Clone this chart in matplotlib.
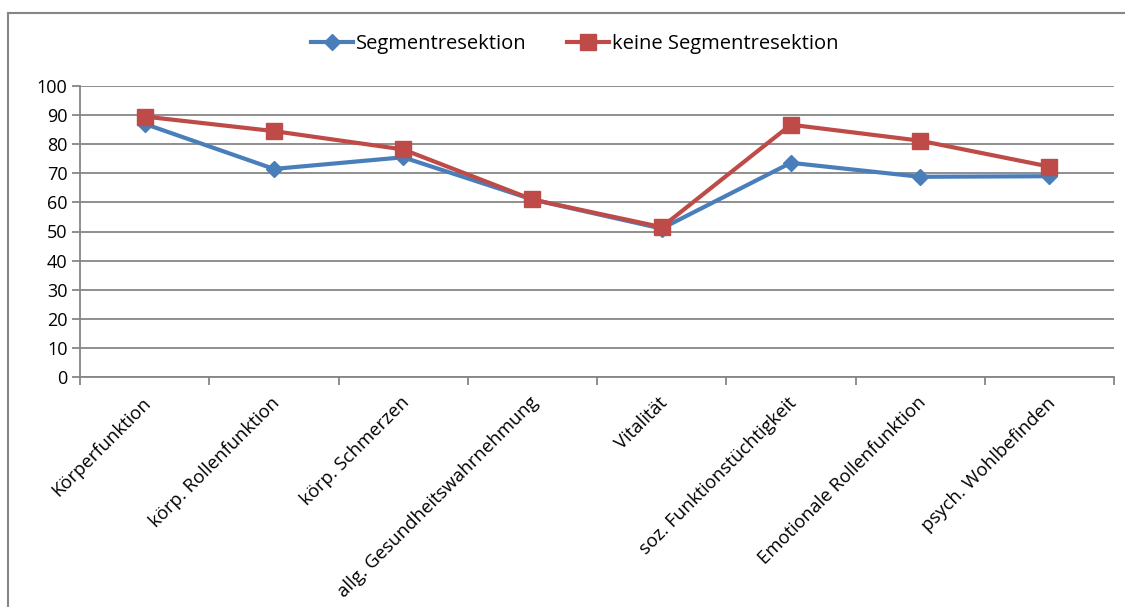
import matplotlib
matplotlib.use("Agg")
import matplotlib.pyplot as plt
from matplotlib.lines import Line2D
import matplotlib.transforms as mtransforms

categories = ["Körperfunktion", "körp. Rollenfunktion", "körp. Schmerzen",
              "allg. Gesundheitswahrnehmung", "Vitalität", "soz. Funktionstüchtigkeit",
              "Emotionale Rollenfunktion", "psych. Wohlbefinden"]
segment = [87, 71.5, 75.5, 61, 51, 73.6, 68.8, 69]
keine = [89.5, 84.5, 78.2, 61, 51.5, 86.7, 81.2, 72.3]
series_names = ["Segmentresektion", "keine Segmentresektion"]
yticks = [0, 10, 20, 30, 40, 50, 60, 70, 80, 90, 100]

plt.rcParams['font.family'] = ['Open Sans', 'DejaVu Sans']

fig = plt.figure(figsize=(11.25, 6.07), dpi=100)
# outer chart border
fig.add_artist(Line2D([8/1125, 8/1125], [0, 1 - 13/607], transform=fig.transFigure, color='#868686', lw=1.5))
fig.add_artist(Line2D([8/1125, 1.0], [1 - 13/607, 1 - 13/607], transform=fig.transFigure, color='#868686', lw=1.5))

ax = fig.add_axes([80/1125, 1 - 377/607, (1114 - 80)/1125, (377 - 86)/607])
x = list(range(len(categories)))
ax.plot(x, segment, color='#4a7ebb', lw=3, marker='D', markersize=8, label=series_names[0], zorder=3)
ax.plot(x, keine, color='#be4b48', lw=3, marker='s', markersize=11, label=series_names[1], zorder=4)

ax.set_xlim(-0.5, len(categories) - 0.5)
ax.set_ylim(0, 100)
ax.set_yticks(yticks)
ax.set_yticklabels([str(v) for v in yticks], fontsize=13)
ax.yaxis.grid(True, color='#868686', lw=1.3)
ax.set_axisbelow(True)
for s in ['top', 'right']:
    ax.spines[s].set_visible(False)
for s in ['left', 'bottom']:
    ax.spines[s].set_color('#868686')
    ax.spines[s].set_linewidth(1.3)
ax.tick_params(axis='y', length=6, width=1.3, color='#868686', pad=3)
# category boundary ticks
ax.set_xticks([i - 0.5 for i in range(len(categories) + 1)], minor=False)
ax.set_xticklabels([''] * (len(categories) + 1))
ax.tick_params(axis='x', which='major', length=6, width=1.3, color='#868686')
ax.set_xticks(x, minor=True)
ax.set_xticklabels(categories, minor=True, rotation=45, ha='right', rotation_mode='anchor', fontsize=13.3)
ax.tick_params(axis='x', which='minor', length=0, pad=12)
offset = mtransforms.ScaledTranslation(-3/100, 0, fig.dpi_scale_trans)
for lab in ax.get_xticklabels(minor=True):
    lab.set_transform(lab.get_transform() + offset)

leg = fig.legend(loc='center', bbox_to_anchor=(0.511, 1 - 44/607), ncol=2, frameon=False,
                 fontsize=14.5, handlelength=2.1, columnspacing=2.0, handletextpad=0.15)

fig.savefig("out.png", dpi=100)
